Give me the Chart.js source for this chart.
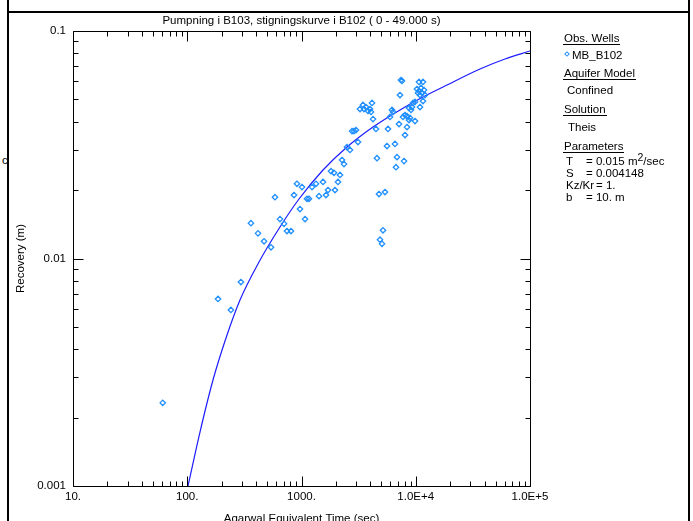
<!DOCTYPE html>
<html><head><meta charset="utf-8">
<script src="https://cdn.jsdelivr.net/npm/chart.js@4"></script>
<style>
html,body{margin:0;padding:0;background:#fff;overflow:hidden;}
#wrap{position:relative;width:693px;height:521px;font-family:"Liberation Sans",Arial,sans-serif;color:#000;}
#chart{position:absolute;left:0;top:0;}
.bl{position:absolute;background:#000;}
.t{position:absolute;font-size:11.5px;line-height:12px;white-space:nowrap;}
.u{border-bottom:1px solid #000;padding:0 1px;}
.dm{position:absolute;width:2px;height:2px;border:1px solid #1f8fff;transform:rotate(45deg);}
sup{font-size:10.5px;line-height:0;vertical-align:4px;}
</style></head>
<body><div id="wrap">
<div class="bl" style="left:7px;top:0;width:2px;height:521px"></div>
<div class="bl" style="left:688px;top:0;width:2px;height:521px"></div>
<div class="bl" style="left:7px;top:11px;width:683px;height:2px"></div>
<div class="t" style="left:2px;top:154px">c</div>
<canvas id="chart" width="693" height="521"></canvas>
<div class="t" style="left:73px;width:457px;text-align:center;top:14px">Pumpning i B103, stigningskurve i B102 ( 0 - 49.000 s)</div>
<div class="t" style="left:563px;top:32px"><span class="u">Obs. Wells</span></div>
<div class="dm" style="left:565px;top:52px"></div>
<div class="t" style="left:572px;top:49px">MB_B102</div>
<div class="t" style="left:563px;top:67px"><span class="u">Aquifer Model</span></div>
<div class="t" style="left:567px;top:84px">Confined</div>
<div class="t" style="left:563px;top:103px"><span class="u">Solution</span></div>
<div class="t" style="left:568px;top:121px">Theis</div>
<div class="t" style="left:563px;top:140px"><span class="u">Parameters</span></div>
<div class="t" style="left:566px;top:155px">T</div><div class="t" style="left:586px;top:155px">= 0.015 m<sup>2</sup>/sec</div>
<div class="t" style="left:566px;top:167px">S</div><div class="t" style="left:586px;top:167px">= 0.004148</div>
<div class="t" style="left:566px;top:179px">Kz/Kr</div><div class="t" style="left:596px;top:179px">= 1.</div>
<div class="t" style="left:566px;top:191px">b</div><div class="t" style="left:586px;top:191px">= 10. m</div>
</div>
<script>
const FONT = '"Liberation Sans", Arial, sans-serif';
const FS = 11.5;
const xTickValues = [10, 100, 1000, 10000, 100000];
const xTickLabels = ['10.', '100.', '1000.', '1.0E+4', '1.0E+5'];
const yTickValues = [0.001, 0.01, 0.1];
const yTickLabels = ['0.001', '0.01', '0.1'];

const obsTime = [61,186,241,295,361,416,470,541,586,648,703,747,809,860,913,970,1010,1073,1117,1163,
 1236,1339,1423,1543,1638,1706,1813,1925,1964,2087,2173,2262,2355,2502,2658,2767,2881,2999,3123,3251,
 3453,3524,3669,3820,3977,4141,4058,4225,4487,4578,4767,5382,5168,4865,5066,5718,5603,6581,5953,6197,
 6321,7136,7280,7428,7578,6852,6716,7893,8053,8384,7735,8053,8384,8729,8906,8729,9273,9087,9461,9849,
 9849,10890,11570,10680,11570,10250,10680,11120,11340,11810,12050,10890,10460];
const obsRecovery = [0.00232,0.00664,0.00594,0.00788,0.0143,0.0129,0.0119,0.0112,0.0186,0.0149,0.0142,0.0132,0.0132,0.0190,0.0213,0.0165,0.0206,0.0149,0.0183,0.0183,
 0.0206,0.0213,0.0188,0.0217,0.0190,0.0200,0.0242,0.0238,0.0200,0.0217,0.0233,0.0271,0.0260,0.0309,0.0300,0.0363,0.0363,0.0367,0.0325,0.0454,
 0.0473,0.0454,0.0463,0.0445,0.0454,0.0483,0.0441,0.0410,0.0371,0.0276,0.0192,0.0196,0.0133,0.0121,0.0116,0.0371,0.0312,0.0319,0.0419,0.0450,
 0.0441,0.0390,0.0523,0.0609,0.0603,0.0279,0.0252,0.0268,0.0349,0.0378,0.0419,0.0427,0.0423,0.0406,0.0415,0.0459,0.0463,0.0450,0.0483,0.0488,
 0.0402,0.0463,0.0492,0.0597,0.0597,0.0556,0.0545,0.0562,0.0534,0.0550,0.0523,0.0523,0.0534];

const fitTime = [101.5,129.3,168,218.4,289.5,424.6,648,951,1543,2502,4225,7280,11570,18770,36500,60430,100000];
const fitRecovery = [0.001,0.001727,0.002923,0.004472,0.00657,0.009652,0.013756,0.018264,0.02449,0.0309,0.03784,0.0450,0.05129,0.05789,0.06808,0.07532,0.08168];

const obsPoints = obsTime.map((t, i) => ({x: t, y: obsRecovery[i]}));
const fitPoints = fitTime.map((t, i) => ({x: t, y: fitRecovery[i]}));

const framePlugin = {
  id: 'frame',
  afterDatasetsDraw(chart) {
    const {ctx, chartArea: a, scales: {x, y}} = chart;
    ctx.save();
    ctx.strokeStyle = '#000';
    ctx.lineWidth = 1;
    const L = Math.round(a.left) + 0.5, R = Math.round(a.right) + 0.5;
    const T = Math.round(a.top) + 0.5, B = Math.round(a.bottom) + 0.5;
    ctx.beginPath();
    ctx.rect(L, T, R - L, B - T);
    xTickValues.forEach(d => {
      for (let m = 1; m <= 9; m++) {
        const v = d * m;
        if (v > x.max * 1.0001) break;
        const px = Math.round(x.getPixelForValue(v)) + 0.5;
        const len = m === 1 ? 10 : 5;
        ctx.moveTo(px, B); ctx.lineTo(px, B - len);
        ctx.moveTo(px, T); ctx.lineTo(px, T + len);
      }
    });
    yTickValues.forEach(d => {
      for (let m = 1; m <= 9; m++) {
        const v = d * m;
        if (v > y.max * 1.0001) break;
        const py = Math.round(y.getPixelForValue(v)) + 0.5;
        const len = m === 1 ? 10 : 5;
        ctx.moveTo(L, py); ctx.lineTo(L + len, py);
        ctx.moveTo(R, py); ctx.lineTo(R - len, py);
      }
    });
    ctx.stroke();
    ctx.restore();
  }
};

new Chart(document.getElementById('chart'), {
  type: 'scatter',
  data: {
    datasets: [
      {label: 'MB_B102', data: obsPoints, pointStyle: 'rectRot', pointRadius: 2.7,
       borderColor: '#1f8fff', backgroundColor: 'rgba(255,255,255,0)', borderWidth: 1.3, showLine: false},
      {label: 'Theis', data: fitPoints, showLine: true, pointRadius: 0, borderColor: '#1c1cff',
       borderWidth: 1.2, tension: 0.4, cubicInterpolationMode: 'monotone', fill: false}
    ]
  },
  options: {
    responsive: false, animation: false, events: [],
    layout: {padding: {left: 10, top: 31, right: 163, bottom: 0}},
    plugins: {legend: {display: false}, tooltip: {enabled: false}, title: {display: false}},
    scales: {
      x: {
        type: 'logarithmic', position: 'bottom', min: 10, max: 100000,
        grid: {display: false, drawTicks: false}, border: {display: false},
        afterBuildTicks: s => { s.ticks = xTickValues.map(v => ({value: v})); },
        afterFit: s => { s.height = 35; },
        ticks: {font: {family: FONT, size: FS}, color: '#000', padding: 4, maxRotation: 0, autoSkip: false,
          callback: v => xTickLabels[xTickValues.indexOf(v)]},
        title: {display: true, text: 'Agarwal Equivalent Time (sec)', font: {family: FONT, size: FS}, color: '#000',
          padding: {top: 0, bottom: -5}}
      },
      y: {
        type: 'logarithmic', position: 'left', min: 0.001, max: 0.1,
        grid: {display: false, drawTicks: false}, border: {display: false},
        afterBuildTicks: s => { s.ticks = yTickValues.map(v => ({value: v})); },
        afterFit: s => { s.width = 63; },
        ticks: {font: {family: FONT, size: FS}, color: '#000', padding: 7, autoSkip: false,
          callback: v => yTickLabels[yTickValues.indexOf(v)]},
        title: {display: true, text: 'Recovery (m)', font: {family: FONT, size: FS}, color: '#000',
          padding: {top: 4, bottom: 0}}
      }
    }
  },
  plugins: [framePlugin]
});
</script>
</body></html>
